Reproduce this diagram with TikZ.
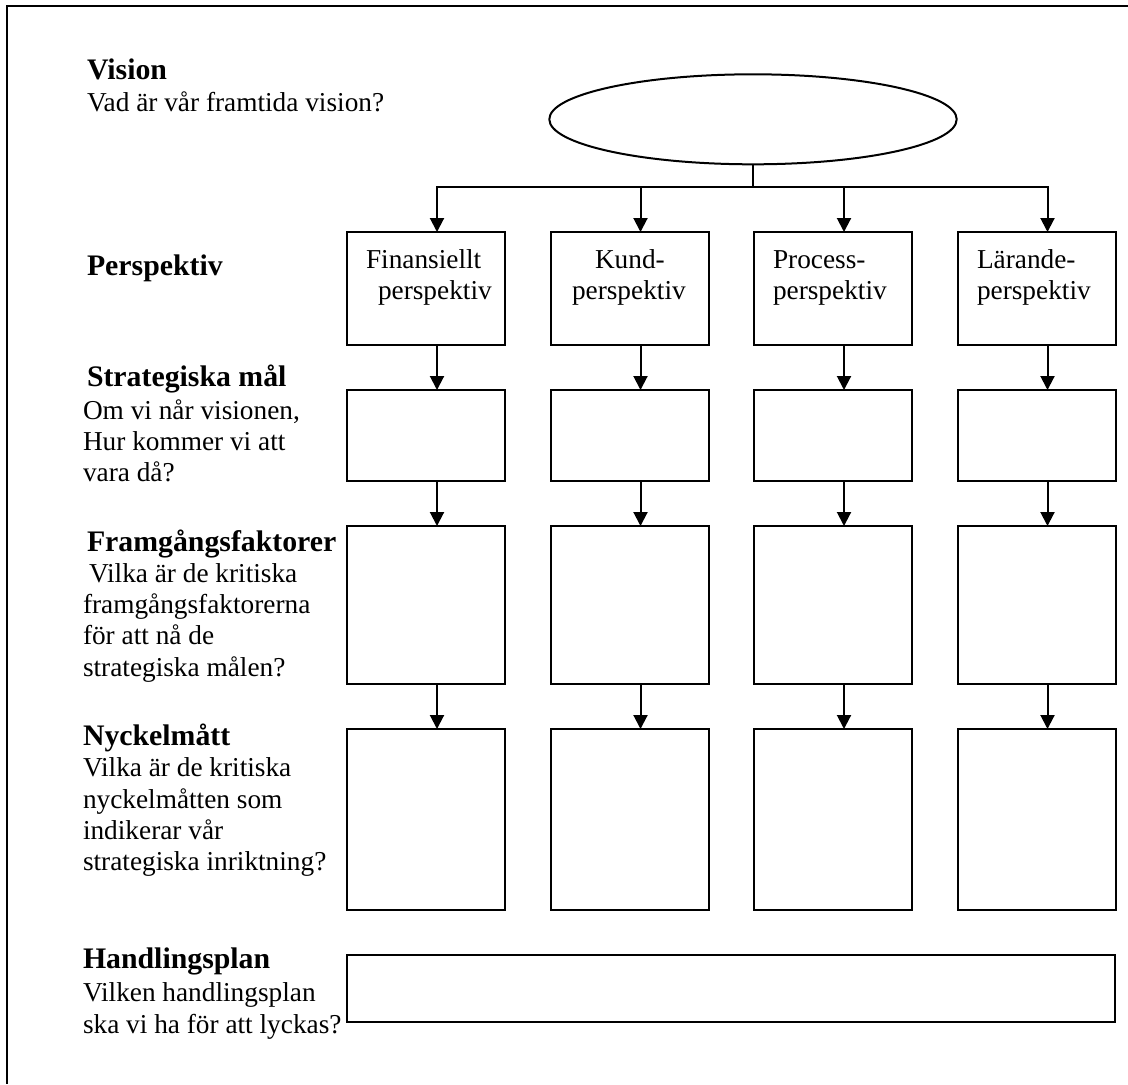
\documentclass[tikz,border=0pt]{standalone}
\usepackage{fontspec}
\setmainfont{Liberation Serif}
\usetikzlibrary{arrows.meta,shapes.geometric}
% stacked lines whose baseline is that of the first line
\newcommand{\linestack}[1]{\begin{tabular}[t]{@{}l@{}}#1\end{tabular}}
\begin{document}
\begin{tikzpicture}[x=0.5pt,y=-0.5pt,
  line width=1pt,
  every node/.style={inner sep=0pt,outer sep=0pt},
  box/.style={draw,rectangle,minimum width=79pt},
  pbox/.style={box,minimum height=56.5pt},
  sbox/.style={box,minimum height=45.5pt},
  fbox/.style={box,minimum height=79pt},
  nbox/.style={box,minimum height=90.5pt},
  arr/.style={-{Triangle[length=7pt,width=7pt]}},
  head/.style={anchor=base west,font=\fontsize{14.9pt}{16pt}\selectfont\bfseries},
  body/.style={anchor=base west,font=\fontsize{13.65pt}{15.7pt}\selectfont},
]
\useasboundingbox (0,0) rectangle (1128,1084);

% page frame (open to the right and bottom)
\draw (1128,6) -| (7,1084);

% left-hand column of questions
\node[head] (hVision) at (87,79.3) {Vision};
\node[body] (tVision) at (87,111) {Vad är vår framtida vision?};
\node[head] (hPersp) at (87,275) {Perspektiv};
\node[head] (hStrat) at (87,386.7) {Strategiska mål};
\node[body] (tStrat) at (83,419) {\linestack{Om vi når visionen,\\Hur kommer vi att\\vara då?}};
\node[head] (hFakt) at (87,551.7) {Framgångsfaktorer};
\node[body] (tFakt) at (83,582) {\linestack{\hspace*{3pt}Vilka är de kritiska\\framgångsfaktorerna\\för att nå de\\strategiska målen?}};
\node[head] (hNyck) at (83,745) {Nyckelmått};
\node[body] (tNyck) at (83,776.7) {\linestack{Vilka är de kritiska\\nyckelmåtten som\\indikerar vår\\strategiska inriktning?}};
\node[head] (hPlan) at (83,968.3) {Handlingsplan};
\node[body] (tPlan) at (83,1001.7) {\linestack{Vilken handlingsplan\\ska vi ha för att lyckas?}};

% vision ellipse
\node[draw,ellipse,minimum width=203.7pt,minimum height=45pt] (vision) at (753,119.3) {};
\coordinate (bus) at (753,187);

% four columns of boxes
\foreach \i/\cx in {1/426,2/629.5,3/833,4/1036.5}{
  \node[pbox] (p\i) at (\cx,288.5) {};
  \node[sbox] (s\i) at (\cx,435.5) {};
  \node[fbox] (f\i) at (\cx,605) {};
  \node[nbox] (n\i) at (\cx,819.5) {};
}
\node[draw,rectangle,minimum width=384pt,minimum height=33.5pt] (plan) at (731,988.5) {};

% perspective labels
\node[body] (lp1) at (366,268) {\linestack{Finansiellt\\\hspace*{6pt}perspektiv}};
\node[body] (lp2) at (572,268) {\linestack{\hspace*{11.5pt}Kund-\\perspektiv}};
\node[body] (lp3) at (773,268) {\linestack{Process-\\perspektiv}};
\node[body] (lp4) at (977,268) {\linestack{Lärande-\\perspektiv}};

% connectors
\draw (vision.south) -- (bus);
\foreach \i in {1,...,4}{
  \draw[arr] (bus) -| ([xshift=5.5pt]p\i.north);
  \draw[arr] ([xshift=5.5pt]p\i.south) -- ([xshift=5.5pt]s\i.north);
  \draw[arr] ([xshift=5.5pt]s\i.south) -- ([xshift=5.5pt]f\i.north);
  \draw[arr] ([xshift=5.5pt]f\i.south) -- ([xshift=5.5pt]n\i.north);
}
\end{tikzpicture}
\end{document}
